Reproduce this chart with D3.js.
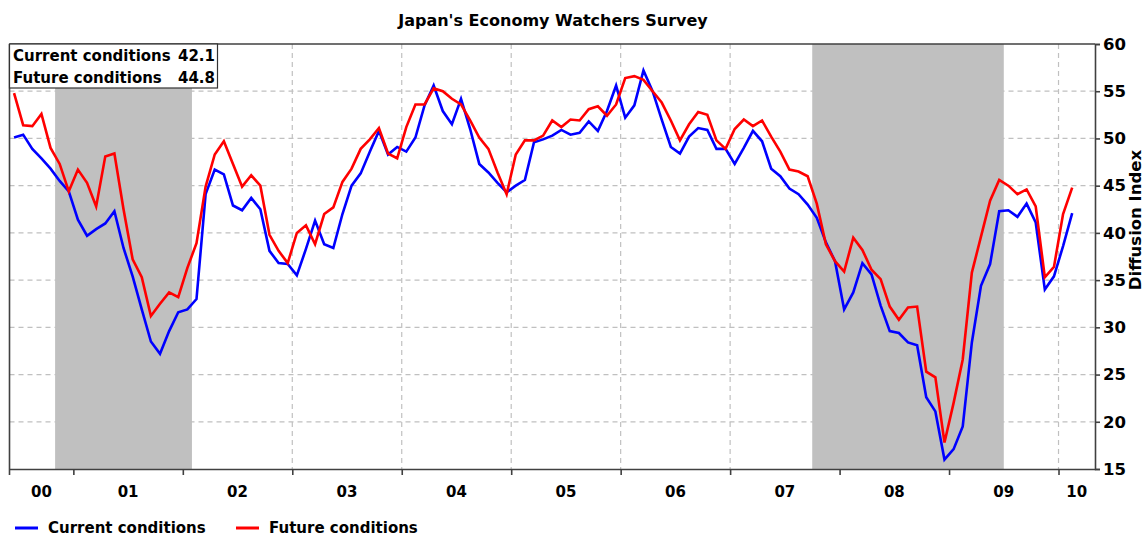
<!DOCTYPE html>
<html><head><meta charset="utf-8">
<script src="https://cdn.jsdelivr.net/npm/d3@7"></script>
<style>
body{margin:0;background:#fff}
text{font-family:'DejaVu Sans',Verdana,sans-serif;font-weight:bold;fill:#000}
</style>
</head><body><svg id="c" width="1146" height="536"></svg>
<script>
// ---------- data ----------
const startMonth = "2000-06";   // first month shown on the axis
const endMonth = "2010-05";     // axis ends at the start of this month
const currentConditions = [
 50.1,50.4,48.9,47.9,46.8,45.5,44.4,41.4,39.7,40.4,41.0,42.3,
 38.4,35.4,31.9,28.5,27.2,29.6,31.6,31.9,33.0,44.1,46.7,46.2,
 42.9,42.4,43.7,42.5,38.1,36.8,36.7,35.5,38.3,41.3,38.8,38.4,
 42.0,45.0,46.3,48.6,50.8,48.3,49.1,48.6,50.1,53.5,55.6,52.9,
 51.5,54.2,51.0,47.3,46.4,45.3,44.3,45.0,45.6,49.6,49.9,50.3,
 50.9,50.4,50.6,51.8,50.8,52.9,55.6,52.2,53.5,57.2,55.0,52.0,
 49.1,48.4,50.2,51.1,50.9,48.9,48.9,47.3,49.0,50.8,49.7,46.8,
 46.0,44.7,44.1,43.0,41.6,39.0,37.0,31.9,33.7,36.8,35.6,32.3,
 29.6,29.4,28.4,28.1,22.6,21.1,16.0,17.1,19.5,28.4,34.4,36.7,
 42.3,42.4,41.7,43.1,41.1,34.0,35.4,38.6,42.1
];
const futureConditions = [
 54.8,51.4,51.3,52.6,49.0,47.3,44.4,46.7,45.3,42.8,48.1,48.4,
 42.5,37.2,35.3,31.2,32.5,33.7,33.2,36.3,38.9,44.9,48.3,49.7,
 47.3,44.9,46.1,45.0,39.8,38.1,36.8,40.0,40.8,38.8,42.0,42.7,
 45.4,46.8,48.9,49.9,51.1,48.4,47.9,51.2,53.6,53.6,55.3,55.0,
 54.2,53.6,51.9,50.1,48.9,46.4,44.1,48.3,49.8,49.8,50.3,51.9,
 51.2,52.0,51.9,53.1,53.4,52.4,53.6,56.4,56.6,56.2,55.0,53.8,
 51.9,49.8,51.5,52.8,52.5,49.8,48.9,51.0,52.0,51.3,51.9,50.2,
 48.6,46.7,46.5,46.0,43.1,38.8,37.0,35.9,39.5,38.2,36.1,35.1,
 32.2,30.8,32.1,32.2,25.3,24.7,17.8,22.0,26.6,35.8,39.6,43.4,
 45.6,45.0,44.1,44.6,42.8,35.3,36.4,42.0,44.8
];
const years = [2000,2001,2002,2003,2004,2005,2006,2007,2008,2009,2010];
const yearLabels = ["00","01","02","03","04","05","06","07","08","09","10"];
const yTicks = [15,20,25,30,35,40,45,50,55,60];
const recessionStarts = ["2000-11","2007-10"];
const recessionEnds = ["2002-02","2009-07"];
const seriesNames = ["Current conditions","Future conditions"];
const seriesColors = ["#0000ff","#ff0000"];
const chartTitle = "Japan's Economy Watchers Survey";
const yTitle = "Diffusion Index";

// ---------- helpers ----------
const [sy, sm] = startMonth.split("-").map(Number);
function mIdx(s){ const [yy,mm]=s.split("-").map(Number); return (yy-sy)*12+(mm-sm); }

const svg = d3.select("#c");
const L=9.5, R=1095, T=44, B=469;
const x = d3.scaleLinear().domain([0, mIdx(endMonth)]).range([L,R]);
const y = d3.scaleLinear().domain([15,60]).range([B,T]);
const axisColor = "#404040";

// title
svg.append("text").attr("x",553).attr("y",26).attr("text-anchor","middle")
  .attr("font-size",16).text(chartTitle);

// grid
const yearStarts = years.slice(1).map(yr=>mIdx(yr+"-01"));
svg.append("g").selectAll("line").data(yTicks.filter(v=>v>15&&v<60)).join("line")
  .attr("x1",L).attr("x2",R).attr("y1",d=>y(d)).attr("y2",d=>y(d))
  .attr("stroke","#c0c0c0").attr("stroke-width",1.2).attr("stroke-dasharray","5,4");
svg.append("g").selectAll("line").data(yearStarts).join("line")
  .attr("x1",d=>x(d)).attr("x2",d=>x(d)).attr("y1",T).attr("y2",B)
  .attr("stroke","#c0c0c0").attr("stroke-width",1.2).attr("stroke-dasharray","5,4");

// recession shading
svg.append("g").selectAll("rect").data(recessionStarts.map((s,i)=>[mIdx(s),mIdx(recessionEnds[i])])).join("rect")
  .attr("x",d=>x(d[0])).attr("width",d=>x(d[1])-x(d[0]))
  .attr("y",T).attr("height",B-T).attr("fill","#c0c0c0");

// lines
const line = d3.line().x((d,i)=>x(i+0.5)).y(d=>y(d));
[currentConditions,futureConditions].forEach((s,k)=>{
  svg.append("path").datum(s).attr("d",line).attr("fill","none")
    .attr("stroke",seriesColors[k]).attr("stroke-width",2.6).attr("stroke-linejoin","miter");
});

// frame (left + top)
svg.append("line").attr("x1",L).attr("x2",L).attr("y1",T).attr("y2",B+6).attr("stroke",axisColor).attr("stroke-width",1.6);
svg.append("line").attr("x1",L).attr("x2",R).attr("y1",T).attr("y2",T).attr("stroke",axisColor).attr("stroke-width",1.6);

// bottom axis
const xa = svg.append("g").attr("transform",`translate(0,${B})`)
  .call(d3.axisBottom(x).tickValues(yearStarts).tickFormat("").tickSize(6).tickSizeOuter(0));
xa.selectAll("path,line").attr("stroke",axisColor).attr("stroke-width",1.6);
// year labels centred in visible part of each year
svg.append("g").selectAll("text").data(years).join("text")
  .attr("x",(yr)=>{ const a=Math.max(0,mIdx(yr+"-01")), b=Math.min(mIdx(endMonth),mIdx((yr+1)+"-01")); return (x(a)+x(b))/2; })
  .attr("y",497).attr("text-anchor","middle").attr("font-size",15)
  .text((d,i)=>yearLabels[i]);

// right axis
const ya = svg.append("g").attr("transform",`translate(${R},0)`)
  .call(d3.axisRight(y).tickValues(yTicks).tickSize(5).tickPadding(3));
ya.selectAll("path,line").attr("stroke",axisColor).attr("stroke-width",1.6);
ya.selectAll("text").attr("font-size",16.5).style("font-family","'DejaVu Sans',Verdana,sans-serif").style("font-weight","bold").attr("fill","#000");
svg.append("text").attr("transform",`translate(1141,220) rotate(-90)`)
  .attr("text-anchor","middle").attr("font-size",16.5).text(yTitle);

// top-left value box
const box = svg.append("g");
box.append("rect").attr("x",L).attr("y",T).attr("width",208).attr("height",44)
  .attr("fill","#fff").attr("stroke","#333").attr("stroke-width",1.2);
const lastVals = [currentConditions[currentConditions.length-1], futureConditions[futureConditions.length-1]];
seriesNames.forEach((n,i)=>{
  box.append("text").attr("x",13).attr("y",61+i*21.5).attr("font-size",15).text(n);
  box.append("text").attr("x",215).attr("y",61+i*21.5).attr("font-size",15).attr("text-anchor","end").text(d3.format(".1f")(lastVals[i]));
});

// bottom legend
const lg = svg.append("g");
const lx = [15,236];
seriesNames.forEach((n,i)=>{
  lg.append("line").attr("x1",lx[i]).attr("x2",lx[i]+23).attr("y1",528).attr("y2",528)
    .attr("stroke",seriesColors[i]).attr("stroke-width",3);
  lg.append("text").attr("x",lx[i]+33).attr("y",533).attr("font-size",15).text(n);
});
</script>
</body></html>
